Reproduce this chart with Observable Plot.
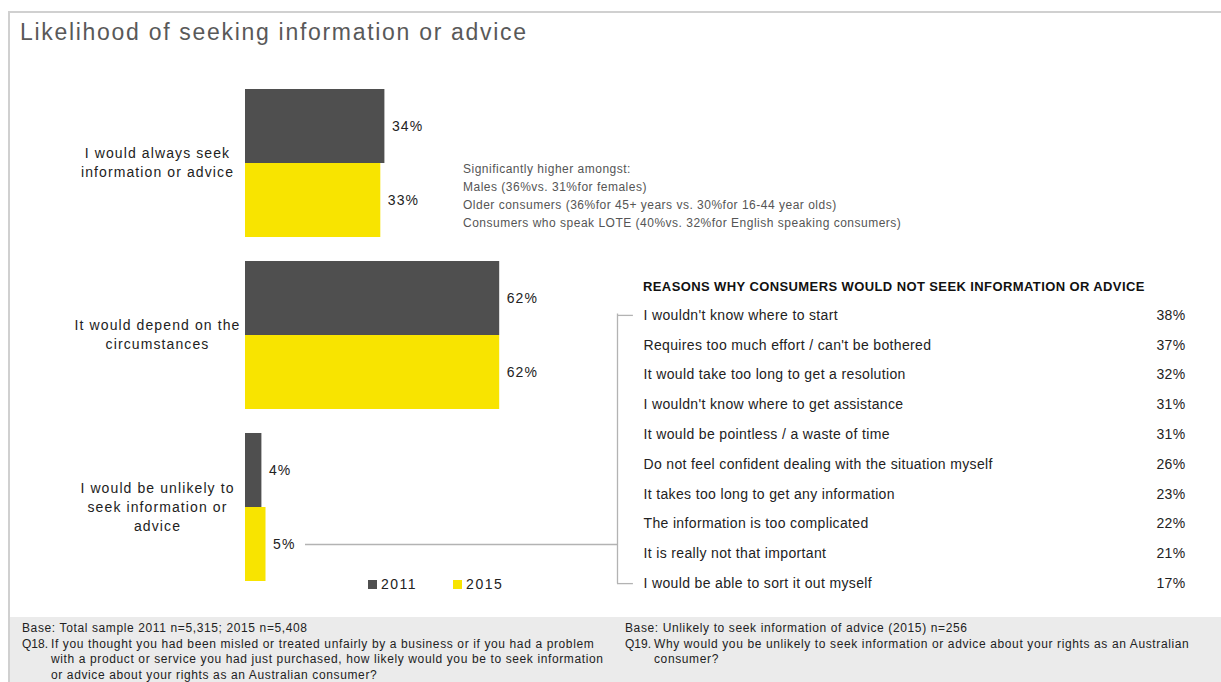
<!DOCTYPE html>
<html><head><meta charset="utf-8">
<script src="https://cdn.jsdelivr.net/npm/d3@7"></script>
<script src="https://cdn.jsdelivr.net/npm/@observablehq/plot@0.6"></script>
<style>
body{margin:0;background:#fff;font-family:"Liberation Sans",Arial,sans-serif;}
#wrap{position:relative;width:1221px;height:682px;overflow:hidden;background:#fff;}
#box{position:absolute;left:8px;top:11px;width:1230px;height:700px;border-left:2px solid #d0d0d0;border-top:2px solid #d0d0d0;}
#title{position:absolute;left:20px;top:18px;font-size:23px;color:#595959;line-height:28px;white-space:nowrap;letter-spacing:1.7px;}
#note{position:absolute;left:463px;top:160px;font-size:12px;color:#555;line-height:18px;white-space:nowrap;letter-spacing:0.5px;}
#head{position:absolute;left:643px;top:279px;font-size:13px;font-weight:bold;color:#111;line-height:16px;white-space:nowrap;letter-spacing:0.4px;}
#legend{position:absolute;left:368px;top:575px;font-size:14px;color:#222;line-height:18px;white-space:nowrap;display:flex;}
#legend span.item{display:inline-flex;align-items:center;margin-right:36px;letter-spacing:1.5px;}
#legend i{display:inline-block;width:9px;height:9px;margin-right:4px;}
#footer{position:absolute;left:10px;top:617px;width:1215px;height:70px;background:#ebebeb;}
.col{position:absolute;top:4px;font-size:12px;color:#222;line-height:15.7px;letter-spacing:0.62px;}
.row{display:flex;white-space:nowrap;}
.row .k{width:29px;flex:none;letter-spacing:0;}
svg{position:absolute;left:0;top:0;}
</style></head>
<body><div id="wrap">
<div id="box"></div>
<div id="title">Likelihood of seeking information or advice</div>
<div id="note"></div>
<div id="head"></div>
<div id="legend"></div>
<div id="footer"></div>
</div>
<script>
// ---- data ----
const categories = ["I would always seek\ninformation or advice", "It would depend on the\ncircumstances", "I would be unlikely to\nseek information or\nadvice"];
const years = ["2011", "2015"];
const values2011 = [34, 62, 4];
const values2015 = [33, 62, 5];
const yearColors = ["#4f4f4f", "#f8e400"];

const reasonsTitle = "REASONS WHY CONSUMERS WOULD NOT SEEK INFORMATION OR ADVICE";
const reasons = [
  "I wouldn't know where to start",
  "Requires too much effort / can't be bothered",
  "It would take too long to get a resolution",
  "I wouldn't know where to get assistance",
  "It would be pointless / a waste of time",
  "Do not feel confident dealing with the situation myself",
  "It takes too long to get any information",
  "The information is too complicated",
  "It is really not that important",
  "I would be able to sort it out myself"
];
const reasonValues = [38, 37, 32, 31, 31, 26, 23, 22, 21, 17];

const noteLines = [
  "Significantly higher amongst:",
  "Males (36%vs. 31%for females)",
  "Older consumers (36%for 45+ years vs. 30%for 16-44 year olds)",
  "Consumers who speak LOTE (40%vs. 32%for English speaking consumers)"
];
const footLeft = [
  ["", "Base: Total sample 2011 n=5,315; 2015 n=5,408"],
  ["Q18.", "If you thought you had been misled or treated unfairly by a business or if you had a problem"],
  ["", "with a product or service you had just purchased, how likely would you be to seek information"],
  ["", "or advice about your rights as an Australian consumer?"]
];
const footRight = [
  ["", "Base: Unlikely to seek information of advice (2015) n=256"],
  ["Q19.", "Why would you be unlikely to seek information or advice about your rights as an Australian"],
  ["", "consumer?"]
];

// ---- table ----
const data = categories.flatMap((c, i) => [
  {cat: c, year: years[0], v: values2011[i]},
  {cat: c, year: years[1], v: values2015[i]}
]);

const left = Plot.plot({
  width: 617, height: 600,
  marginLeft: 245, marginRight: 0, marginTop: 89, marginBottom: 19,
  style: {fontFamily: "Liberation Sans, Arial, sans-serif", background: "transparent", overflow: "visible", letterSpacing: "1.1px"},
  facet: {data: data, y: "cat"},
  fy: {domain: categories, paddingInner: 0.1395, paddingOuter: 0, round: false, axis: null, label: null},
  x: {domain: [0, 100], range: [245, 655], axis: null},
  y: {domain: years, padding: 0, round: false, axis: null},
  color: {domain: years, range: yearColors},
  marks: [
    Plot.barX(data, {x: "v", y: "year", fill: "year"}),
    Plot.text(data, {x: "v", y: "year", text: d => d.v + "%", dx: 7, textAnchor: "start", fontSize: 14, fill: "#222"}),
    Plot.text(data, {filter: d => d.year === years[0], text: "cat", frameAnchor: "left", dx: -88, dy: -2, textAnchor: "middle", fontSize: 14, fill: "#222", lineHeight: 1.36}),
    Plot.ruleY(data, {filter: d => d.cat === categories[2] && d.year === years[1], y: "year", stroke: "#b3b3b3", strokeWidth: 1.3, insetLeft: 60})
  ]
});
document.getElementById("wrap").appendChild(left);

const rdata = reasons.map((r, i) => ({r, v: reasonValues[i]}));
const right = Plot.plot({
  width: 1221, height: 600,
  marginLeft: 617, marginRight: 36, marginTop: 300, marginBottom: 2,
  style: {fontFamily: "Liberation Sans, Arial, sans-serif", background: "transparent", overflow: "visible", letterSpacing: "0.35px"},
  x: {domain: [0, 100], range: [617, 1185], axis: null},
  y: {type: "band", domain: reasons, padding: 0, round: false, axis: null},
  marks: [
    Plot.ruleX([0], {y1: () => reasons[0], y2: () => reasons[reasons.length - 1], insetTop: 13.5, insetBottom: 14.5, stroke: "#b3b3b3", strokeWidth: 1.3}),
    Plot.ruleY([reasons[0], reasons[reasons.length - 1]], {y: d => d, x1: 0, x2: 2.8, stroke: "#b3b3b3", strokeWidth: 1.3}),
    Plot.text(rdata, {y: "r", text: "r", frameAnchor: "left", dx: 26, textAnchor: "start", fontSize: 14, fill: "#222"}),
    Plot.text(rdata, {y: "r", text: d => d.v + "%", frameAnchor: "right", textAnchor: "end", fontSize: 14, fill: "#222"})
  ]
});
document.getElementById("wrap").appendChild(right);

// ---- html text ----
document.getElementById("note").innerHTML = noteLines.map(s => `<div>${s}</div>`).join("");
document.getElementById("head").textContent = reasonsTitle;
document.getElementById("legend").innerHTML = years.map((y, i) => `<span class="item"><i style="background:${yearColors[i]}"></i>${y}</span>`).join("");
const foot = document.getElementById("footer");
function col(lines, x) {
  const d = document.createElement("div");
  d.className = "col"; d.style.left = x + "px";
  d.innerHTML = lines.map(([k, t]) => k === "" && t.startsWith("Base:")
    ? `<div class="row"><span>${t}</span></div>`
    : `<div class="row"><span class="k">${k}</span><span>${t}</span></div>`).join("");
  foot.appendChild(d);
}
col(footLeft, 12);
col(footRight, 615);
</script>
</body></html>
